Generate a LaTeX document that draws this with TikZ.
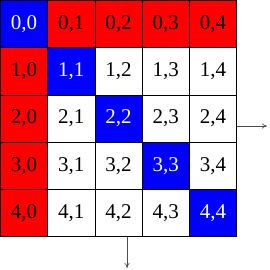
\documentclass[tikz,border=0pt]{standalone}
\usepackage{fontspec}
\setmainfont{Liberation Serif}
\usetikzlibrary{arrows.meta}
\definecolor{xblue}{RGB}{0,0,255}
\definecolor{xred}{RGB}{255,0,0}
\begin{document}
\begin{tikzpicture}[x=1pt,y=-1pt,
  cell/.style={draw=black,line width=0.8pt,minimum width=47.2pt,minimum height=47.2pt,
    inner sep=0pt,anchor=center,font=\fontsize{21}{21}\selectfont},
  bluecell/.style={cell,fill=xblue,text=white},
  redcell/.style={cell,fill=xred,text=black},
  whitecell/.style={cell,fill=white,text=black},
  outarrow/.style={draw=black!70,line width=0.7pt,-{To[length=5pt,width=5pt]}}]
\useasboundingbox (0,0) rectangle (270,270);
\foreach \r in {0,...,4}{
  \foreach \c in {0,...,4}{
    \pgfmathtruncatemacro{\kind}{\r==\c ? 0 : ((\r==0 || \c==0) ? 1 : 2)}
    \ifcase\kind
      \node[bluecell] (c\r\c) at ({0.5+47.2*(\c+0.5)},{0.5+47.2*(\r+0.5)}) {\r,\c};
    \or
      \node[redcell] (c\r\c) at ({0.5+47.2*(\c+0.5)},{0.5+47.2*(\r+0.5)}) {\r,\c};
    \else
      \node[whitecell] (c\r\c) at ({0.5+47.2*(\c+0.5)},{0.5+47.2*(\r+0.5)}) {\r,\c};
    \fi
  }
}
\coordinate (rs) at (237,126);
\coordinate (re) at (267,126);
\coordinate (ds) at (127,237);
\coordinate (de) at (127,268);
\draw[outarrow] (rs) -- (re);
\draw[outarrow] (ds) -- (de);
\end{tikzpicture}
\end{document}
